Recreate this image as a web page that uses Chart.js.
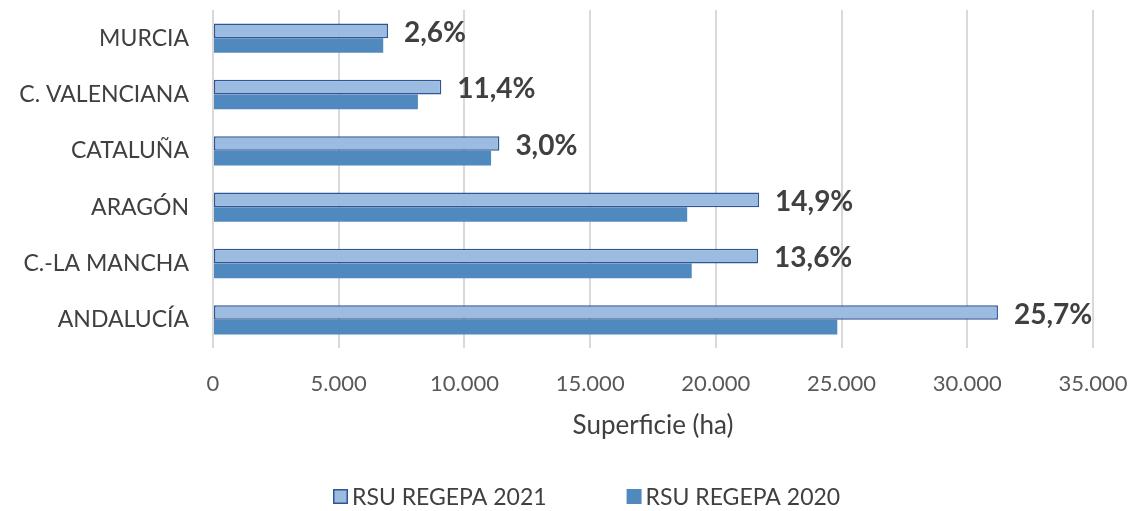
<!DOCTYPE html>
<html>
<head>
<meta charset="utf-8">
<script src="https://cdn.jsdelivr.net/npm/chart.js@4.4.0/dist/chart.umd.min.js"></script>
<style>
  html, body { margin: 0; padding: 0; background: #fff; }
  #wrap { width: 1136px; height: 511px; }
</style>
</head>
<body>
<div id="wrap"><canvas id="myChart"></canvas></div>
<script>
// data (ha)
const regiones = ['MURCIA', 'C. VALENCIANA', 'CATALUÑA', 'ARAGÓN', 'C.-LA MANCHA', 'ANDALUCÍA'];
const rsu2021 = [6960, 9080, 11390, 21720, 21680, 31220];
const rsu2020 = [6770, 8150, 11060, 18860, 19040, 24830];
const variacion = ['2,6%', '11,4%', '3,0%', '14,9%', '13,6%', '25,7%'];
const xTicks = [0, 5000, 10000, 15000, 20000, 25000, 30000, 35000];

const FONT = 'Lato, "Open Sans", sans-serif';

const fmtMiles = (v) => String(v).replace(/\B(?=(\d{3})+(?!\d))/g, '.');

// percentage labels to the right of the 2021 bars
const etiquetas = {
    id: 'etiquetas',
    afterDatasetsDraw(chart) {
        const ctx = chart.ctx;
        const meta = chart.getDatasetMeta(0);
        ctx.save();
        ctx.font = 'bold 28px ' + FONT;
        ctx.fillStyle = '#404040';
        ctx.textAlign = 'left';
        ctx.textBaseline = 'middle';
        meta.data.forEach((bar, i) => {
            ctx.fillText(variacion[i], bar.x + 16, bar.y + 2);
        });
        ctx.restore();
    }
};

// legend drawn by hand so the gap between items matches
const leyenda = {
    id: 'leyenda',
    afterDraw(chart) {
        const ctx = chart.ctx;
        ctx.save();
        ctx.font = '23px ' + FONT;
        ctx.textBaseline = 'middle';
        ctx.textAlign = 'left';
        let x = 333;
        const y = 497;
        chart.data.datasets.forEach((ds) => {
            ctx.fillStyle = ds.backgroundColor;
            ctx.fillRect(x, y - 8, 15, 15);
            if (ds.borderWidth > 1) {
                ctx.strokeStyle = ds.borderColor;
                ctx.lineWidth = 1.5;
                ctx.strokeRect(x + 0.75, y - 7.25, 13.5, 13.5);
            }
            ctx.fillStyle = '#404040';
            ctx.fillText(ds.label, x + 19, y + 1);
            x += 19 + ctx.measureText(ds.label).width + 80;
        });
        ctx.restore();
    }
};

const renderChart = () => {
    var ctx = document.getElementById('myChart').getContext('2d');
    var myChart = new Chart(ctx, {
        type: 'bar',
        data: {
            labels: regiones,
            datasets: [{
                label: 'RSU REGEPA 2021',
                data: rsu2021,
                backgroundColor: '#9BBBE0',
                borderColor: '#2F5597',
                borderWidth: 1.5,
                borderSkipped: false,
                categoryPercentage: 0.52,
                barPercentage: 1
            }, {
                label: 'RSU REGEPA 2020',
                data: rsu2020,
                backgroundColor: '#4F89BD',
                borderColor: '#4F89BD',
                borderWidth: 0,
                categoryPercentage: 0.52,
                barPercentage: 1
            }]
        },
        options: {
            indexAxis: 'y',
            responsive: true,
            maintainAspectRatio: false,
            animation: false,
            layout: { padding: { top: 10, right: 43, left: 0, bottom: 53 } },
            plugins: {
                legend: { display: false },
                tooltip: { enabled: false }
            },
            scales: {
                x: {
                    min: 0,
                    max: 35000,
                    afterBuildTicks: (s) => { s.ticks = xTicks.map(v => ({ value: v })); },
                    afterFit: (s) => {
                        s.height = 110;
                        s.paddingLeft = 0;
                        s.paddingRight = 0;
                    },
                    grid: { color: '#D9D9D9', lineWidth: 2, drawTicks: false },
                    border: { display: false },
                    ticks: {
                        padding: 23,
                        color: '#595959',
                        font: { family: FONT, size: 22 },
                        callback: (v) => fmtMiles(v)
                    },
                    title: {
                        display: true,
                        text: 'Superficie (ha)',
                        color: '#404040',
                        font: { family: FONT, size: 26 },
                        padding: { top: 0, bottom: 17 }
                    }
                },
                y: {
                    afterFit: (s) => {
                        s.width = 213;
                        s.paddingTop = 0;
                        s.paddingBottom = 0;
                    },
                    grid: { display: false, drawTicks: false },
                    border: { display: false },
                    ticks: {
                        padding: 24,
                        color: '#404040',
                        font: { family: FONT, size: 23 }
                    }
                }
            }
        },
        plugins: [etiquetas, leyenda]
    });
};
renderChart();
</script>
</body>
</html>
